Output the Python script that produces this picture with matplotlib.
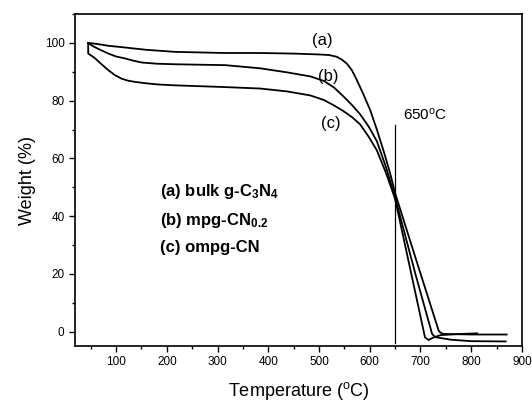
import matplotlib
matplotlib.use("Agg")
import matplotlib.pyplot as plt
from matplotlib.ticker import MultipleLocator

plt.rcParams['font.family'] = ['Liberation Sans', 'DejaVu Sans']
plt.rcParams['mathtext.default'] = 'regular'

# TGA curves (temperature in C, weight in %)
T_a = [45, 60, 85, 118, 160, 216, 315, 384, 450, 500, 520, 535, 545, 555, 565, 575, 588, 601, 614, 627,
       640, 650, 696, 736, 740, 745, 800, 870]
W_a = [100, 99.7, 99.0, 98.4, 97.6, 96.9, 96.5, 96.5, 96.3, 96.0, 95.8, 95.2, 94.2, 92.8, 90.5, 87.0, 82.0,
       76.7, 70.0, 62.8, 55.0, 48.0, 22.4, 0.3, -0.4, -0.8, -1.0, -1.0]

T_b = [45, 55, 70, 85, 100, 118, 135, 151, 180, 216, 315, 384, 437, 483, 510, 530, 548, 565, 581, 598,
       614, 632, 650, 690, 723, 729, 760, 800, 868]
W_b = [100, 98.8, 97.5, 96.3, 95.3, 94.6, 93.8, 93.2, 92.8, 92.6, 92.3, 91.2, 89.8, 88.4, 86.8, 84.5,
       81.5, 78.5, 75.3, 71.0, 66.0, 57.0, 46.5, 20.0, -0.8, -1.9, -2.8, -3.3, -3.4]

T_c = [45, 45, 52, 59, 70, 85, 98, 111, 124, 137, 160, 183, 216, 315, 384, 437, 483, 510, 530, 548, 565,
       581, 598, 614, 632, 650, 709, 716, 726, 740, 780, 812]
W_c = [100, 96.3, 95.5, 94.6, 92.8, 90.5, 88.8, 87.6, 86.9, 86.5, 86.0, 85.6, 85.3, 84.7, 84.2, 83.2,
       81.8, 80.2, 78.3, 76.4, 74.3, 71.8, 67.5, 62.8, 55.0, 46.0, -2.0, -2.9, -2.0, -1.2, -0.8, -0.6]

curve_labels = ['(a)', '(b)', '(c)']
label_T = [506, 518, 524]
label_W = [101, 88.5, 72]

sample_names = [r'(a) bulk g-C$_3$N$_4$', r'(b) mpg-CN$_{0.2}$', '(c) ompg-CN']
name_W = [48.6, 38.5, 29.2]

fig = plt.figure(figsize=(5.32, 4.01), dpi=100)
ax = fig.add_axes([0.141, 0.137, 0.840, 0.828])

for T, W in [(T_a, W_a), (T_b, W_b), (T_c, W_c)]:
    ax.plot(T, W, color='black', lw=1.3)

ax.plot([650, 650], [-4, 71.5], color='black', lw=0.9)
ax.text(666, 75, r'650$^o$C', fontsize=11, ha='left', va='center')

for lab, x, y in zip(curve_labels, label_T, label_W):
    ax.text(x, y, lab, fontsize=12, ha='center', va='center')

for name, y in zip(sample_names, name_W):
    ax.text(187, y, name, fontsize=12, fontweight='bold', ha='left', va='center')

ax.set_xlim(19, 900)
ax.set_ylim(-5, 110)
ax.xaxis.set_major_locator(MultipleLocator(100))
ax.xaxis.set_minor_locator(MultipleLocator(50))
ax.yaxis.set_major_locator(MultipleLocator(20))
ax.yaxis.set_minor_locator(MultipleLocator(10))
ax.tick_params(which='both', direction='out', top=False, right=False, labelsize=8.5)
ax.tick_params(which='major', length=4, width=1)
ax.tick_params(which='minor', length=2.5, width=1)
for s in ax.spines.values():
    s.set_linewidth(1.2)

ax.set_xlabel(r'Temperature ($^o$C)', fontsize=13, labelpad=8)
ax.set_ylabel('Weight (%)', fontsize=13, labelpad=6)

fig.savefig('out.png', dpi=100)
